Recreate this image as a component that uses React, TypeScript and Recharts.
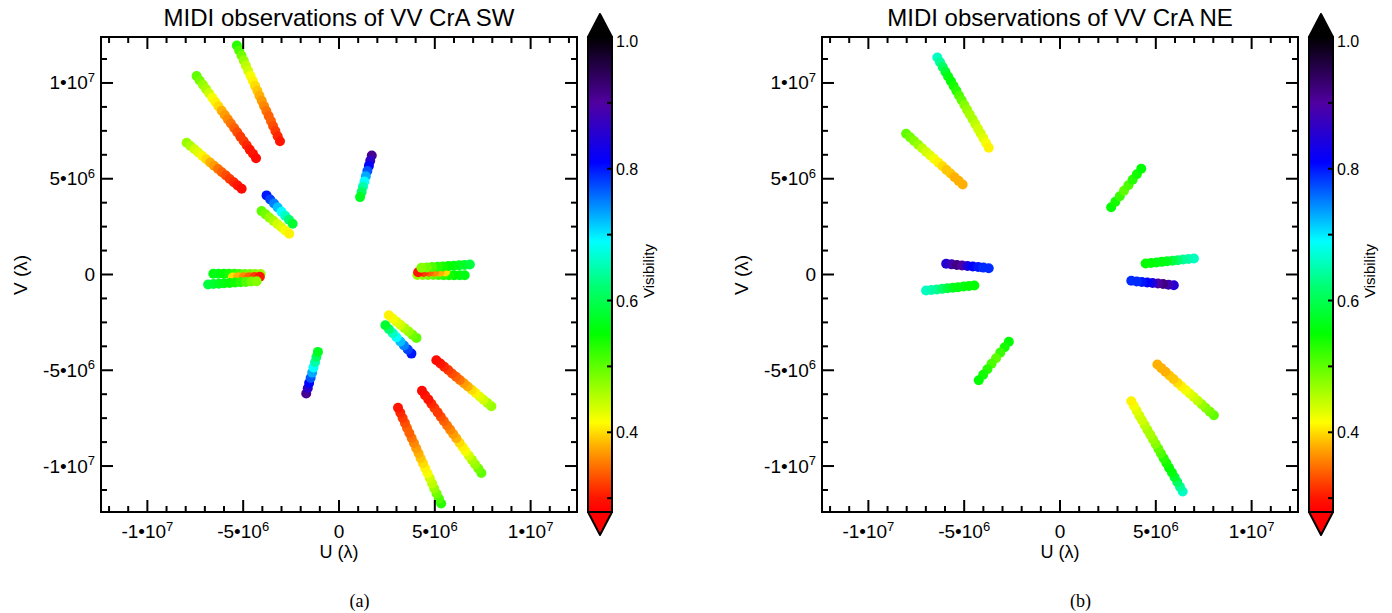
import { ScatterChart, Scatter, XAxis, YAxis, ReferenceArea } from 'recharts';

// each point: [u (10^6 λ), v (10^6 λ), visibility]
type Pt = [number, number, number];

// ---- VV CrA SW ----
const swTrack1: Pt[] = [
  [-5.33, 11.96, 0.53], [-5.21, 11.7, 0.51], [-5.09, 11.43, 0.49], [-4.97, 11.17, 0.47], [-4.86, 10.91, 0.45],
  [-4.74, 10.64, 0.44], [-4.62, 10.38, 0.42], [-4.5, 10.12, 0.41], [-4.38, 9.85, 0.4], [-4.26, 9.59, 0.39],
  [-4.15, 9.33, 0.38], [-4.03, 9.07, 0.37], [-3.91, 8.8, 0.36], [-3.79, 8.54, 0.35], [-3.67, 8.28, 0.34],
  [-3.55, 8.01, 0.34], [-3.44, 7.75, 0.33], [-3.32, 7.49, 0.32], [-3.2, 7.22, 0.31], [-3.08, 6.96, 0.3],
];
const swTrack2: Pt[] = [
  [-7.43, 10.36, 0.5], [-7.27, 10.13, 0.49], [-7.1, 9.91, 0.47], [-6.94, 9.68, 0.46], [-6.78, 9.46, 0.44],
  [-6.61, 9.23, 0.42], [-6.45, 9.01, 0.41], [-6.29, 8.78, 0.4], [-6.12, 8.55, 0.38], [-5.96, 8.33, 0.37],
  [-5.8, 8.1, 0.36], [-5.64, 7.88, 0.35], [-5.47, 7.65, 0.34], [-5.31, 7.43, 0.33], [-5.15, 7.2, 0.32],
  [-4.98, 6.97, 0.32], [-4.82, 6.75, 0.31], [-4.66, 6.52, 0.3], [-4.49, 6.3, 0.3], [-4.33, 6.07, 0.29],
];
const swTrack3: Pt[] = [
  [-7.95, 6.88, 0.47], [-7.75, 6.71, 0.46], [-7.54, 6.54, 0.44], [-7.34, 6.37, 0.43], [-7.13, 6.19, 0.41],
  [-6.93, 6.02, 0.4], [-6.72, 5.85, 0.38], [-6.52, 5.68, 0.37], [-6.31, 5.51, 0.35], [-6.11, 5.34, 0.34],
  [-5.9, 5.17, 0.33], [-5.7, 4.99, 0.32], [-5.49, 4.82, 0.31], [-5.29, 4.65, 0.3], [-5.08, 4.48, 0.29],
];
const swTrack4: Pt[] = [
  [-3.78, 4.13, 0.8], [-3.59, 3.92, 0.78], [-3.39, 3.71, 0.75], [-3.2, 3.5, 0.72],
  [-3.0, 3.28, 0.69], [-2.81, 3.07, 0.66], [-2.61, 2.86, 0.62], [-2.42, 2.65, 0.58],
];
const swTrack5: Pt[] = [
  [-4.04, 3.31, 0.5], [-3.83, 3.14, 0.49], [-3.63, 2.97, 0.47], [-3.42, 2.8, 0.46],
  [-3.22, 2.64, 0.44], [-3.01, 2.47, 0.43], [-2.81, 2.3, 0.42], [-2.6, 2.13, 0.41],
];
const swTrack6a: Pt[] = [
  [-6.56, 0.04, 0.56], [-6.29, 0.04, 0.56], [-6.01, 0.04, 0.55], [-5.74, 0.04, 0.54], [-5.46, 0.04, 0.53],
  [-5.19, 0.03, 0.52], [-4.92, 0.03, 0.5], [-4.64, 0.03, 0.49], [-4.37, 0.03, 0.48], [-4.09, 0.03, 0.47],
];
const swTrack6b: Pt[] = [
  [-5.54, -0.16, 0.4], [-5.26, -0.15, 0.38], [-4.97, -0.14, 0.36],
  [-4.69, -0.14, 0.34], [-4.41, -0.13, 0.32], [-4.13, -0.12, 0.3],
];
const swTrack6c: Pt[] = [
  [-6.83, -0.52, 0.59], [-6.55, -0.5, 0.58], [-6.27, -0.48, 0.57], [-5.99, -0.46, 0.56], [-5.71, -0.44, 0.55],
  [-5.42, -0.42, 0.54], [-5.14, -0.4, 0.53], [-4.86, -0.39, 0.51], [-4.58, -0.37, 0.49], [-4.3, -0.35, 0.48],
];
const swTrack7: Pt[] = [
  [1.71, 6.21, 0.91], [1.63, 5.94, 0.86], [1.56, 5.67, 0.81], [1.48, 5.4, 0.77], [1.4, 5.13, 0.73],
  [1.33, 4.85, 0.69], [1.25, 4.58, 0.65], [1.18, 4.31, 0.61], [1.1, 4.04, 0.57],
];
// conjugate points (-u, -v)
const swTrack1m: Pt[] = [
  [5.33, -11.96, 0.53], [5.21, -11.7, 0.51], [5.09, -11.43, 0.49], [4.97, -11.17, 0.47], [4.86, -10.91, 0.45],
  [4.74, -10.64, 0.44], [4.62, -10.38, 0.42], [4.5, -10.12, 0.41], [4.38, -9.85, 0.4], [4.26, -9.59, 0.39],
  [4.15, -9.33, 0.38], [4.03, -9.07, 0.37], [3.91, -8.8, 0.36], [3.79, -8.54, 0.35], [3.67, -8.28, 0.34],
  [3.55, -8.01, 0.34], [3.44, -7.75, 0.33], [3.32, -7.49, 0.32], [3.2, -7.22, 0.31], [3.08, -6.96, 0.3],
];
const swTrack2m: Pt[] = [
  [7.43, -10.36, 0.5], [7.27, -10.13, 0.49], [7.1, -9.91, 0.47], [6.94, -9.68, 0.46], [6.78, -9.46, 0.44],
  [6.61, -9.23, 0.42], [6.45, -9.01, 0.41], [6.29, -8.78, 0.4], [6.12, -8.55, 0.38], [5.96, -8.33, 0.37],
  [5.8, -8.1, 0.36], [5.64, -7.88, 0.35], [5.47, -7.65, 0.34], [5.31, -7.43, 0.33], [5.15, -7.2, 0.32],
  [4.98, -6.97, 0.32], [4.82, -6.75, 0.31], [4.66, -6.52, 0.3], [4.49, -6.3, 0.3], [4.33, -6.07, 0.29],
];
const swTrack3m: Pt[] = [
  [7.95, -6.88, 0.47], [7.75, -6.71, 0.46], [7.54, -6.54, 0.44], [7.34, -6.37, 0.43], [7.13, -6.19, 0.41],
  [6.93, -6.02, 0.4], [6.72, -5.85, 0.38], [6.52, -5.68, 0.37], [6.31, -5.51, 0.35], [6.11, -5.34, 0.34],
  [5.9, -5.17, 0.33], [5.7, -4.99, 0.32], [5.49, -4.82, 0.31], [5.29, -4.65, 0.3], [5.08, -4.48, 0.29],
];
const swTrack4m: Pt[] = [
  [3.78, -4.13, 0.8], [3.59, -3.92, 0.78], [3.39, -3.71, 0.75], [3.2, -3.5, 0.72],
  [3.0, -3.28, 0.69], [2.81, -3.07, 0.66], [2.61, -2.86, 0.62], [2.42, -2.65, 0.58],
];
const swTrack5m: Pt[] = [
  [4.04, -3.31, 0.5], [3.83, -3.14, 0.49], [3.63, -2.97, 0.47], [3.42, -2.8, 0.46],
  [3.22, -2.64, 0.44], [3.01, -2.47, 0.43], [2.81, -2.3, 0.42], [2.6, -2.13, 0.41],
];
const swTrack6am: Pt[] = [
  [6.56, -0.04, 0.56], [6.29, -0.04, 0.56], [6.01, -0.04, 0.55], [5.74, -0.04, 0.54], [5.46, -0.04, 0.53],
  [5.19, -0.03, 0.52], [4.92, -0.03, 0.5], [4.64, -0.03, 0.49], [4.37, -0.03, 0.48], [4.09, -0.03, 0.47],
];
const swTrack6bm: Pt[] = [
  [5.54, 0.16, 0.4], [5.26, 0.15, 0.38], [4.97, 0.14, 0.36],
  [4.69, 0.14, 0.34], [4.41, 0.13, 0.32], [4.13, 0.12, 0.3],
];
const swTrack6cm: Pt[] = [
  [6.83, 0.52, 0.59], [6.55, 0.5, 0.58], [6.27, 0.48, 0.57], [5.99, 0.46, 0.56], [5.71, 0.44, 0.55],
  [5.42, 0.42, 0.54], [5.14, 0.4, 0.53], [4.86, 0.39, 0.51], [4.58, 0.37, 0.49], [4.3, 0.35, 0.48],
];
const swTrack7m: Pt[] = [
  [-1.71, -6.21, 0.91], [-1.63, -5.94, 0.86], [-1.56, -5.67, 0.81], [-1.48, -5.4, 0.77], [-1.4, -5.13, 0.73],
  [-1.33, -4.85, 0.69], [-1.25, -4.58, 0.65], [-1.18, -4.31, 0.61], [-1.1, -4.04, 0.57],
];

// ---- VV CrA NE ----
const neTrack1: Pt[] = [
  [-6.4, 11.33, 0.66], [-6.26, 11.08, 0.64], [-6.12, 10.83, 0.61], [-5.98, 10.59, 0.58], [-5.84, 10.34, 0.56],
  [-5.69, 10.09, 0.55], [-5.55, 9.84, 0.54], [-5.41, 9.6, 0.53], [-5.27, 9.35, 0.51], [-5.13, 9.1, 0.5],
  [-4.99, 8.85, 0.48], [-4.85, 8.6, 0.47], [-4.71, 8.36, 0.46], [-4.56, 8.11, 0.46], [-4.42, 7.86, 0.45],
  [-4.28, 7.61, 0.44], [-4.14, 7.37, 0.44], [-4.0, 7.12, 0.43], [-3.86, 6.87, 0.42], [-3.72, 6.62, 0.41],
];
const neTrack2: Pt[] = [
  [-8.03, 7.35, 0.5], [-7.82, 7.16, 0.49], [-7.61, 6.97, 0.48], [-7.4, 6.78, 0.47], [-7.19, 6.59, 0.45],
  [-6.98, 6.4, 0.44], [-6.77, 6.21, 0.43], [-6.56, 6.03, 0.42], [-6.34, 5.84, 0.41], [-6.13, 5.65, 0.4],
  [-5.92, 5.46, 0.39], [-5.71, 5.27, 0.39], [-5.5, 5.08, 0.38], [-5.29, 4.89, 0.38], [-5.08, 4.7, 0.38],
];
const neTrack3: Pt[] = [
  [2.67, 3.51, 0.55], [2.89, 3.8, 0.54], [3.12, 4.09, 0.52], [3.34, 4.37, 0.5],
  [3.57, 4.66, 0.51], [3.79, 4.95, 0.53], [4.01, 5.23, 0.54], [4.24, 5.52, 0.55],
];
const neTrack4: Pt[] = [
  [-5.94, 0.56, 0.85], [-5.66, 0.53, 0.88], [-5.38, 0.5, 0.92], [-5.11, 0.47, 0.9], [-4.83, 0.44, 0.84],
  [-4.55, 0.42, 0.81], [-4.27, 0.39, 0.8], [-4.0, 0.36, 0.79], [-3.72, 0.33, 0.79],
];
const neTrack5: Pt[] = [
  [-6.99, -0.84, 0.66], [-6.71, -0.81, 0.65], [-6.43, -0.78, 0.64], [-6.15, -0.75, 0.62], [-5.87, -0.72, 0.59],
  [-5.59, -0.69, 0.57], [-5.31, -0.66, 0.56], [-5.03, -0.63, 0.56], [-4.75, -0.6, 0.55], [-4.47, -0.57, 0.55],
];
const neTrack1m: Pt[] = [
  [6.4, -11.33, 0.66], [6.26, -11.08, 0.64], [6.12, -10.83, 0.61], [5.98, -10.59, 0.58], [5.84, -10.34, 0.56],
  [5.69, -10.09, 0.55], [5.55, -9.84, 0.54], [5.41, -9.6, 0.53], [5.27, -9.35, 0.51], [5.13, -9.1, 0.5],
  [4.99, -8.85, 0.48], [4.85, -8.6, 0.47], [4.71, -8.36, 0.46], [4.56, -8.11, 0.46], [4.42, -7.86, 0.45],
  [4.28, -7.61, 0.44], [4.14, -7.37, 0.44], [4.0, -7.12, 0.43], [3.86, -6.87, 0.42], [3.72, -6.62, 0.41],
];
const neTrack2m: Pt[] = [
  [8.03, -7.35, 0.5], [7.82, -7.16, 0.49], [7.61, -6.97, 0.48], [7.4, -6.78, 0.47], [7.19, -6.59, 0.45],
  [6.98, -6.4, 0.44], [6.77, -6.21, 0.43], [6.56, -6.03, 0.42], [6.34, -5.84, 0.41], [6.13, -5.65, 0.4],
  [5.92, -5.46, 0.39], [5.71, -5.27, 0.39], [5.5, -5.08, 0.38], [5.29, -4.89, 0.38], [5.08, -4.7, 0.38],
];
const neTrack3m: Pt[] = [
  [-2.67, -3.51, 0.55], [-2.89, -3.8, 0.54], [-3.12, -4.09, 0.52], [-3.34, -4.37, 0.5],
  [-3.57, -4.66, 0.51], [-3.79, -4.95, 0.53], [-4.01, -5.23, 0.54], [-4.24, -5.52, 0.55],
];
const neTrack4m: Pt[] = [
  [5.94, -0.56, 0.85], [5.66, -0.53, 0.88], [5.38, -0.5, 0.92], [5.11, -0.47, 0.9], [4.83, -0.44, 0.84],
  [4.55, -0.42, 0.81], [4.27, -0.39, 0.8], [4.0, -0.36, 0.79], [3.72, -0.33, 0.79],
];
const neTrack5m: Pt[] = [
  [6.99, 0.84, 0.66], [6.71, 0.81, 0.65], [6.43, 0.78, 0.64], [6.15, 0.75, 0.62], [5.87, 0.72, 0.59],
  [5.59, 0.69, 0.57], [5.31, 0.66, 0.56], [5.03, 0.63, 0.56], [4.75, 0.6, 0.55], [4.47, 0.57, 0.55],
];

const swTracks = [
  swTrack1, swTrack2, swTrack3, swTrack4, swTrack5, swTrack6a, swTrack6b, swTrack6c, swTrack7,
  swTrack1m, swTrack2m, swTrack3m, swTrack4m, swTrack5m, swTrack6am, swTrack6bm, swTrack6cm, swTrack7m,
];
const neTracks = [
  neTrack1, neTrack2, neTrack3, neTrack4, neTrack5,
  neTrack1m, neTrack2m, neTrack3m, neTrack4m, neTrack5m,
];

// axis ticks, in 10^6 λ
const xTicks = [-12, -11, -10, -9, -8, -7, -6, -5, -4, -3, -2, -1, 0, 1, 2, 3, 4, 5, 6, 7, 8, 9, 10, 11, 12];
const yTicks = [
  -11.25, -10, -8.75, -7.5, -6.25, -5, -3.75, -2.5, -1.25, 0,
  1.25, 2.5, 3.75, 5, 6.25, 7.5, 8.75, 10, 11.25,
];
const cbarTicks = [0.3, 0.4, 0.5, 0.6, 0.7, 0.8, 0.9, 1.0];
const cbarLabels = [0.4, 0.6, 0.8, 1.0];

// colour table: visibility -> rgb
const cmapStops: [number, number, number, number][] = [
  [0.279, 255, 0, 0],
  [0.3, 255, 20, 0],
  [0.34, 255, 96, 0],
  [0.38, 255, 176, 0],
  [0.415, 255, 255, 0],
  [0.47, 150, 255, 0],
  [0.55, 0, 255, 0],
  [0.62, 0, 255, 112],
  [0.69, 0, 255, 255],
  [0.75, 0, 128, 255],
  [0.81, 0, 0, 255],
  [0.9, 80, 0, 160],
  [1.0, 0, 0, 0],
];
const VMIN = 0.279;
const VMAX = 1.0;

const FONT = '"Liberation Sans", Arial, Helvetica, sans-serif';
const W = 671;
const H = 613;
const PLOT_LEFT = 101;
const PLOT_TOP = 37;
const PLOT_W = 476;
const PLOT_H = 475;
const PLOT_RIGHT = PLOT_LEFT + PLOT_W;
const PLOT_BOTTOM = PLOT_TOP + PLOT_H;
const CB_X = 588;
const CB_W = 24;

function visColor(v: number) {
  if (v <= cmapStops[0][0]) return `rgb(${cmapStops[0][1]},${cmapStops[0][2]},${cmapStops[0][3]})`;
  for (let i = 1; i < cmapStops.length; i++) {
    const a = cmapStops[i - 1];
    const b = cmapStops[i];
    if (v <= b[0]) {
      const t = (v - a[0]) / (b[0] - a[0]);
      const c = [1, 2, 3].map((k) => Math.round(a[k] + (b[k] - a[k]) * t));
      return `rgb(${c[0]},${c[1]},${c[2]})`;
    }
  }
  return 'rgb(0,0,0)';
}

function SciText({ x, y, value, anchor }: { x: number; y: number; value: number; anchor: 'start' | 'middle' | 'end' }) {
  if (value === 0) {
    return (
      <text x={x} y={y} textAnchor={anchor} fontSize={19} fontFamily={FONT} fill="#000">0</text>
    );
  }
  const full = value * 1e6;
  const exp = Math.floor(Math.log10(Math.abs(full)) + 1e-9);
  const mant = Math.round(full / 10 ** exp);
  return (
    <text x={x} y={y} textAnchor={anchor} fontSize={19} fontFamily={FONT} fill="#000">
      {`${mant}\u202210`}
      <tspan dy={-7.5} fontSize={13}>{exp}</tspan>
    </text>
  );
}

const isMajor = (v: number) => Math.abs(v % 5) < 1e-9;

const XTick = (props: any) => {
  const { x, payload } = props;
  const v = payload.value;
  const major = isMajor(v);
  const len = major ? 12 : 6;
  return (
    <g>
      <line x1={x} x2={x} y1={PLOT_BOTTOM} y2={PLOT_BOTTOM - len} stroke="#000" strokeWidth={2} />
      <line x1={x} x2={x} y1={PLOT_TOP} y2={PLOT_TOP + len} stroke="#000" strokeWidth={2} />
      {major && <SciText x={x} y={PLOT_BOTTOM + 26} value={v} anchor="middle" />}
    </g>
  );
};

const YTick = (props: any) => {
  const { y, payload } = props;
  const v = payload.value;
  const major = isMajor(v);
  const len = major ? 12 : 6;
  return (
    <g>
      <line x1={PLOT_LEFT} x2={PLOT_LEFT + len} y1={y} y2={y} stroke="#000" strokeWidth={2} />
      <line x1={PLOT_RIGHT} x2={PLOT_RIGHT - len} y1={y} y2={y} stroke="#000" strokeWidth={2} />
      {major && <SciText x={PLOT_LEFT - 6} y={y + 6.5} value={v} anchor="end" />}
    </g>
  );
};

const Dot = (props: any) => {
  const { cx, cy, payload } = props;
  if (cx == null || cy == null) return null;
  return <circle cx={cx} cy={cy} r={5} fill={visColor(payload.vis)} />;
};

const cbY = (v: number) => PLOT_TOP + ((VMAX - v) / (VMAX - VMIN)) * PLOT_H;

function Colorbar({ gradId }: { gradId: string }) {
  const mid = CB_X + CB_W / 2;
  return (
    <g>
      <defs>
        <linearGradient id={gradId} x1="0" y1="1" x2="0" y2="0">
          {cmapStops.map((s, i) => (
            <stop key={i} offset={(s[0] - VMIN) / (VMAX - VMIN)} stopColor={`rgb(${s[1]},${s[2]},${s[3]})`} />
          ))}
        </linearGradient>
      </defs>
      <rect x={CB_X} y={PLOT_TOP} width={CB_W} height={PLOT_H} fill={`url(#${gradId})`} stroke="#000" strokeWidth={2} />
      <polygon points={`${CB_X},${PLOT_TOP} ${CB_X + CB_W},${PLOT_TOP} ${mid},${PLOT_TOP - 23}`} fill="#000" stroke="#000" strokeWidth={2} strokeLinejoin="round" />
      <polygon points={`${CB_X},${PLOT_BOTTOM} ${CB_X + CB_W},${PLOT_BOTTOM} ${mid},${PLOT_BOTTOM + 23}`} fill="#ff0000" stroke="#000" strokeWidth={2} strokeLinejoin="round" />
      {cbarTicks.map((t) => (
        <line key={t} x1={CB_X + CB_W} x2={CB_X + CB_W - 5} y1={cbY(t)} y2={cbY(t)} stroke="#000" strokeWidth={2} />
      ))}
      {cbarLabels.map((t) => (
        <text key={t} x={CB_X + CB_W + 4} y={t === 1 ? cbY(t) + 10 : cbY(t) + 6} fontSize={16} fontFamily={FONT} fill="#000">
          {t.toFixed(1)}
        </text>
      ))}
      <text
        x={654}
        y={271}
        transform="rotate(-90 654 271)"
        textAnchor="middle"
        fontSize={15}
        fontFamily={FONT}
        fill="#000"
      >
        Visibility
      </text>
    </g>
  );
}

function Panel({ left, title, tracks, caption, gradId }: { left: number; title: string; tracks: Pt[][]; caption: string; gradId: string }) {
  const cx = PLOT_LEFT + PLOT_W / 2;
  return (
    <div style={{ position: 'absolute', left, top: 0, width: W, height: H }}>
      <ScatterChart
        width={W}
        height={H}
        margin={{ top: PLOT_TOP, right: W - PLOT_RIGHT, bottom: H - PLOT_BOTTOM - 20, left: PLOT_LEFT - 20 }}
      >
        <XAxis
          type="number"
          dataKey="u"
          domain={[-12.42, 12.42]}
          ticks={xTicks}
          interval={0}
          allowDataOverflow
          height={20}
          tickSize={0}
          tickMargin={0}
          tickLine={false}
          axisLine={false}
          tick={(p: any) => <XTick {...p} />}
        />
        <YAxis
          type="number"
          dataKey="v"
          domain={[-12.4, 12.4]}
          ticks={yTicks}
          interval={0}
          allowDataOverflow
          width={20}
          tickSize={0}
          tickMargin={0}
          tickLine={false}
          axisLine={false}
          tick={(p: any) => <YTick {...p} />}
        />
        <ReferenceArea x1={-12.42} x2={12.42} y1={-12.4} y2={12.4} fill="none" fillOpacity={0} stroke="#000" strokeWidth={2} strokeOpacity={1} />
        {tracks.map((t, i) => (
          <Scatter
            key={i}
            data={t.map(([u, v, vis]) => ({ u, v, vis }))}
            isAnimationActive={false}
            shape={(p: any) => <Dot {...p} />}
          />
        ))}
      </ScatterChart>
      <svg width={W} height={H} style={{ position: 'absolute', left: 0, top: 0, pointerEvents: 'none' }}>
        <text x={cx} y={26} textAnchor="middle" fontSize={24} fontFamily={FONT} fill="#000">{title}</text>
        <text x={cx} y={558} textAnchor="middle" fontSize={18} fontFamily={FONT} fill="#000">U (λ)</text>
        <text x={27} y={275} transform="rotate(-90 27 275)" textAnchor="middle" fontSize={19} fontFamily={FONT} fill="#000">V (λ)</text>
        <text x={359.5} y={607} textAnchor="middle" fontSize={18} fontFamily='"Liberation Serif", "Times New Roman", serif' fill="#000">{caption}</text>
        <Colorbar gradId={gradId} />
      </svg>
    </div>
  );
}

export default function App() {
  return (
    <div style={{ position: 'absolute', left: 0, top: 0, width: 1392, height: 613, background: '#fff', overflow: 'hidden' }}>
      <Panel left={0} title="MIDI observations of VV CrA SW" tracks={swTracks} caption="(a)" gradId="cbar-sw" />
      <Panel left={721} title="MIDI observations of VV CrA NE" tracks={neTracks} caption="(b)" gradId="cbar-ne" />
    </div>
  );
}
